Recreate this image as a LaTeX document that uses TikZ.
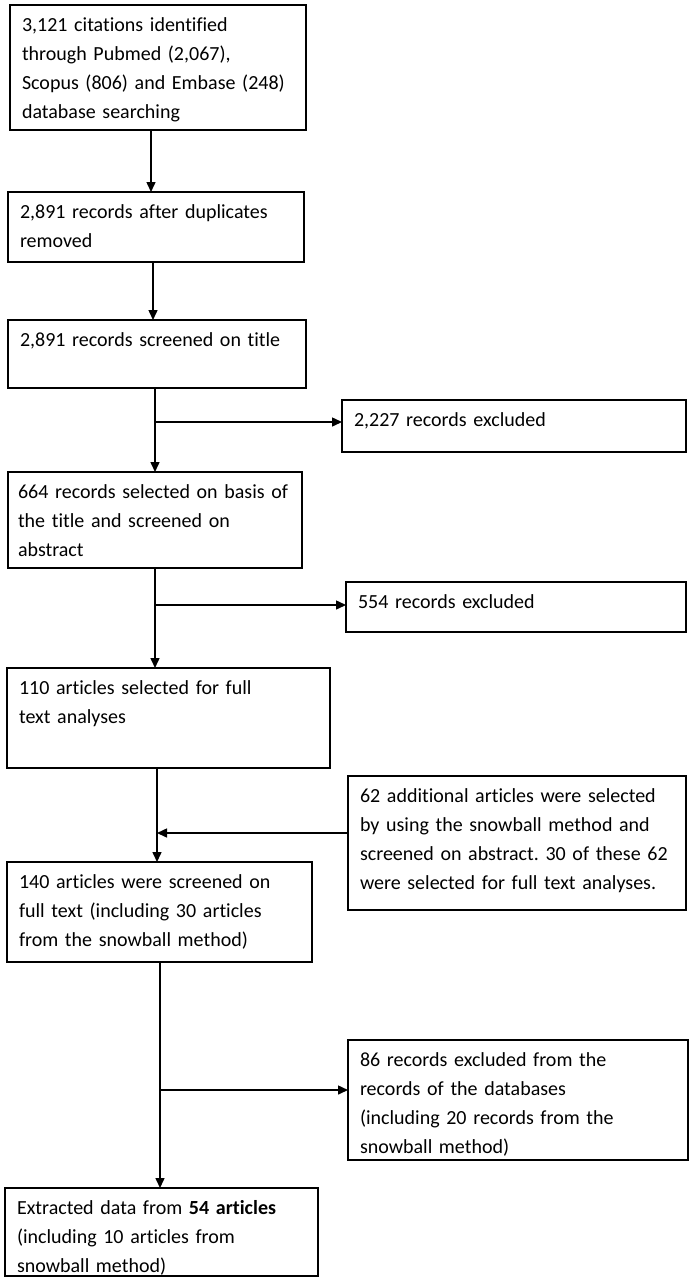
\documentclass[tikz,border=0pt]{standalone}
\usepackage{fontspec}
\setmainfont{Carlito}[Ligatures=NoCommon]
\usetikzlibrary{arrows.meta}
\tikzstyle{arrow} = [line width=1.5pt,-{Triangle[length=10pt,width=9pt]}]
\tikzstyle{flowbox} = [rectangle, draw=black, line width=1.5pt, anchor=north west, align=left,
inner xsep=10pt, inner ysep=6.5pt, outer sep=0pt, text height=20pt, font=\fontsize{20}{29}\selectfont]
\frenchspacing

\begin{document}
\begin{tikzpicture}[x=1pt,y=-1pt]
      \useasboundingbox (0,0) rectangle (692,1282);

      \node (b1) [flowbox, text width=276pt, text depth=92pt] at (10,5)
        {\hspace*{2pt}3,121 citations identified\\ \hspace*{2pt}through Pubmed (2,067),\\ \hspace*{2pt}Scopus (806) and Embase (248)\\ \hspace*{2pt}database searching};
      \node (b2) [flowbox, text width=276pt, text depth=37pt] at (8,192)
        {\hspace*{2pt}2,891 records after duplicates\\ \hspace*{2pt}removed};
      \node (b3) [flowbox, text width=278pt, text depth=35pt] at (8,320)
        {\hspace*{2pt}2,891 records screened on title};
      \node (b4) [flowbox, text width=324pt, text depth=19pt] at (342,400)
        {\hspace*{2pt}2,227 records excluded};
      \node (b5) [flowbox, text width=274pt, text depth=63pt] at (8,472)
        {664 records selected on basis of\\ the title and screened on\\ abstract};
      \node (b6) [flowbox, text width=320pt, text depth=17pt] at (346,582)
        {\hspace*{2pt}554 records excluded};
      \node (b7) [flowbox, text width=303pt, text depth=67pt] at (7,668)
        {\hspace*{2pt}110 articles selected for full\\ \hspace*{2pt}text analyses};
      \node (b8) [flowbox, text width=318pt, text depth=101pt] at (348,776)
        {\hspace*{2pt}62 additional articles were selected\\ \hspace*{2pt}by using the snowball method and\\ \hspace*{2pt}screened on abstract. 30 of these 62\\ \hspace*{2pt}were selected for full text analyses.};
      \node (b9) [flowbox, text width=285pt, text depth=67pt] at (7,862)
        {\hspace*{2pt}140 articles were screened on\\ \hspace*{2pt}full text (including 30 articles\\ \hspace*{2pt}from the snowball method)};
      \node (b10) [flowbox, text width=320pt, text depth=87pt] at (348,1040)
        {\hspace*{2pt}86 records excluded from the\\ \hspace*{2pt}records of the databases\\ \hspace*{2pt}(including 20 records from the\\ \hspace*{2pt}snowball method)};
      \node (b11) [flowbox, text width=293pt, text depth=55pt] at (5,1188)
        {\hspace*{2pt}Extracted data from \textbf{54 articles}\\ \hspace*{2pt}(including 10 articles from\\ \hspace*{2pt}snowball method)};

      \coordinate (c1) at (151,0);
      \coordinate (c2) at (153,0);
      \coordinate (s3) at (155,422);
      \coordinate (s5) at (155,605);
      \coordinate (s7) at (157,833);
      \coordinate (s9) at (160,1090);

      \draw [arrow] (b1.south -| c1) -- (b2.north -| c1);
      \draw [arrow] (b2.south -| c2) -- (b3.north -| c2);
      \draw [arrow] (b3.south -| s3) -- (b5.north -| s3);
      \draw [arrow] (s3) -- (s3 -| b4.west);
      \draw [arrow] (b5.south -| s5) -- (b7.north -| s5);
      \draw [arrow] (s5) -- (s5 -| b6.west);
      \draw [arrow] (b7.south -| s7) -- (b9.north -| s7);
      \draw [arrow] (b8.west |- s7) -- (s7);
      \draw [arrow] (b9.south -| s9) -- (b11.north -| s9);
      \draw [arrow] (s9) -- (s9 -| b10.west);
    \end{tikzpicture}
\end{document}
